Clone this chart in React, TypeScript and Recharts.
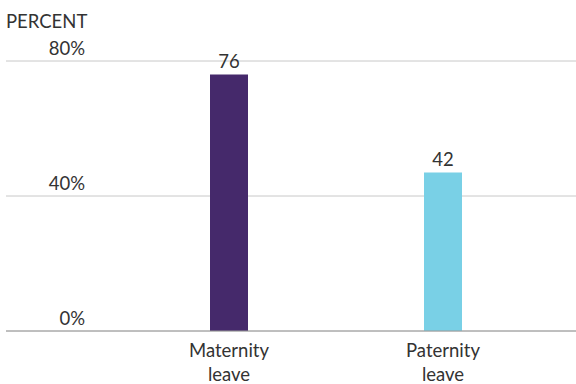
import { BarChart, Bar, XAxis, YAxis, CartesianGrid, Cell, LabelList } from 'recharts'

const categories = ['Maternity leave', 'Paternity leave']
const barValues = [76, 47]
const barLabels = ['76', '42']
const barColors = ['#45296b', '#79d0e6']
const yTicks = [0, 40, 80]

const data = categories.map((name, i) => ({ name, value: barValues[i], label: barLabels[i] }))

const FONT = 'Lato, "Open Sans", sans-serif'
const TEXT = '#333333'
const FS = 18.5

function YTick(props: any) {
  const { y, payload } = props
  return (
    <text x={85} y={y - 6} textAnchor="end" fill={TEXT} fontSize={FS} fontFamily={FONT}>
      {payload.value}%
    </text>
  )
}

function XTick(props: any) {
  const { x, y, payload } = props
  const words = String(payload.value).split(' ')
  return (
    <text x={x} y={y} textAnchor="middle" fill={TEXT} fontSize={FS} fontFamily={FONT}>
      {words.map((w, i) => (
        <tspan key={i} x={x} dy={i === 0 ? 18 : 24}>
          {w}
        </tspan>
      ))}
    </text>
  )
}

function BarLabel(props: any) {
  const { x, y, width, index } = props
  return (
    <text x={x + width / 2} y={y - 6.5} textAnchor="middle" fill={TEXT} fontSize={FS} fontFamily={FONT}>
      {data[index].label}
    </text>
  )
}

export default function App() {
  return (
    <div style={{ position: 'absolute', left: 0, top: 0, width: 576, height: 384, background: '#fff' }}>
      <div style={{ position: 'absolute', left: 6, top: 10, fontFamily: FONT, fontSize: FS, color: TEXT, lineHeight: 1.2 }}>
        PERCENT
      </div>
      <BarChart width={576} height={384} data={data} margin={{ top: 61, right: 0, bottom: 0, left: 5 }}>
        <CartesianGrid vertical={false} stroke="#c8c8c8" />
        <XAxis
          dataKey="name"
          height={53}
          padding={{ left: 116, right: 26 }}
          axisLine={{ stroke: '#9a9a9a' }}
          tickLine={false}
          tick={<XTick />}
          interval={0}
        />
        <YAxis
          width={1}
          domain={[0, 80]}
          ticks={yTicks}
          axisLine={false}
          tickLine={false}
          tick={<YTick />}
        />
        <Bar dataKey="value" barSize={38} isAnimationActive={false}>
          {data.map((d, i) => (
            <Cell key={d.name} fill={barColors[i]} />
          ))}
          <LabelList dataKey="label" content={<BarLabel />} />
        </Bar>
      </BarChart>
    </div>
  )
}
